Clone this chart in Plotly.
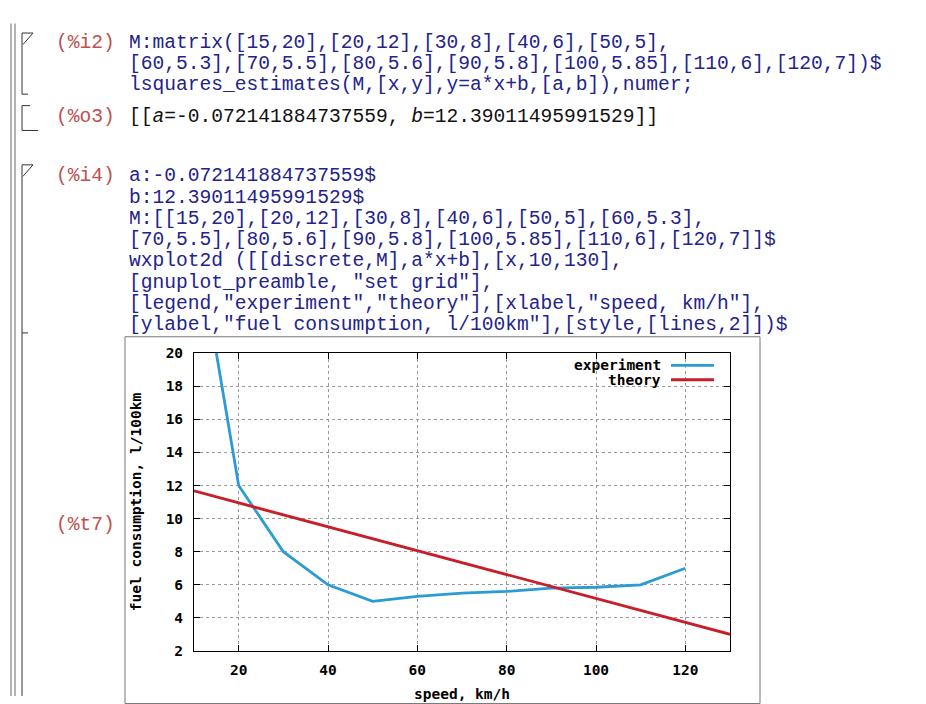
import plotly.graph_objects as go

# ---------------- data ----------------
speed = [15, 20, 30, 40, 50, 60, 70, 80, 90, 100, 110, 120]
fuel = [20, 12, 8, 6, 5, 5.3, 5.5, 5.6, 5.8, 5.85, 6, 7]
theory_speed = [10, 130]
theory_fuel = [11.67, 3.01]
x_ticks = [20, 40, 60, 80, 100, 120]
y_ticks = [2, 4, 6, 8, 10, 12, 14, 16, 18, 20]

cell1_label = "(%i2)"
cell1_lines = [
    "M:matrix([15,20],[20,12],[30,8],[40,6],[50,5],",
    "[60,5.3],[70,5.5],[80,5.6],[90,5.8],[100,5.85],[110,6],[120,7])$",
    "lsquares_estimates(M,[x,y],y=a*x+b,[a,b]),numer;",
]
out_label = "(%o3)"
out_text = "[[<i>a</i>=-0.072141884737559, <i>b</i>=12.39011495991529]]"
cell2_label = "(%i4)"
cell2_lines = [
    "a:-0.072141884737559$",
    "b:12.39011495991529$",
    "M:[[15,20],[20,12],[30,8],[40,6],[50,5],[60,5.3],",
    "[70,5.5],[80,5.6],[90,5.8],[100,5.85],[110,6],[120,7]]$",
    "wxplot2d ([[discrete,M],a*x+b],[x,10,130],",
    "[gnuplot_preamble, \"set grid\"],",
    "[legend,\"experiment\",\"theory\"],[xlabel,\"speed, km/h\"],",
    "[ylabel,\"fuel consumption, l/100km\"],[style,[lines,2]])$",
]
plot_label = "(%t7)"

# ---------------- geometry helpers ----------------
W, H = 926, 704
L, R, T, B = 186, 722, 345, 657


def px(x):
    return (x - L) / (R - L)


def py(y):
    return (B - y) / (B - T)


CODE_FONT = "Liberation Mono"
CODE_SIZE = 19.6
CODE_COLOR = "#23238c"
LABEL_COLOR = "#c0504d"
GP_FONT = "DejaVu Sans Mono"
GP_SIZE = 14.5
BLUE = "#2a9bd4"
RED = "#c81e28"

fig = go.Figure()
fig.add_trace(go.Scatter(x=speed, y=fuel, mode="lines",
                         line=dict(color=BLUE, width=2.8),
                         name="experiment", showlegend=False))
fig.add_trace(go.Scatter(x=theory_speed, y=theory_fuel, mode="lines",
                         line=dict(color=RED, width=2.8),
                         name="theory", showlegend=False))

ann = []
shapes = []

code_x = 120
label_x = 108
c1_ys = [20, 42.3, 64.6]
o_y = 98
for t, yy in zip(cell1_lines, c1_ys):
    ann.append(dict(x=px(code_x), y=py(yy), text=t))
ann.append(dict(x=px(label_x), y=py(c1_ys[0]), text=cell1_label, xanchor="right",
                font=dict(color=LABEL_COLOR)))
ann.append(dict(x=px(label_x), y=py(o_y), text=out_label, xanchor="right",
                font=dict(color=LABEL_COLOR)))
ann.append(dict(x=px(code_x), y=py(o_y), text=out_text, font=dict(color="#111111")))

c2_y0, c2_dy = 160, 22.3
for i, t in enumerate(cell2_lines):
    ann.append(dict(x=px(code_x), y=py(c2_y0 + i * c2_dy), text=t))
ann.append(dict(x=px(label_x), y=py(c2_y0), text=cell2_label, xanchor="right",
                font=dict(color=LABEL_COLOR)))
ann.append(dict(x=px(label_x), y=py(525), text=plot_label, xanchor="right",
                font=dict(color=LABEL_COLOR)))

for a in ann:
    a.setdefault("xanchor", "left")
    a["yanchor"] = "middle"
    a["xref"] = "paper"
    a["yref"] = "paper"
    a["showarrow"] = False
    a["borderpad"] = 0
    f = dict(family=CODE_FONT, size=CODE_SIZE, color=CODE_COLOR)
    f.update(a.get("font", {}))
    a["font"] = f

# legend (gnuplot style: text right, sample on the right)
leg_items = [("experiment", BLUE, 358), ("theory", RED, 373)]
shapes.append(dict(type="rect", xref="paper", yref="paper", x0=px(562), x1=px(721),
                   y0=py(346), y1=py(382), fillcolor="white", line=dict(width=0),
                   layer="between"))
for name, col, yy in leg_items:
    ann.append(dict(x=px(654), y=py(yy), text=f"<b>{name}</b>", xanchor="right", yanchor="middle",
                    xref="paper", yref="paper", showarrow=False, borderpad=0,
                    font=dict(family=GP_FONT, size=GP_SIZE, color="black")))
    shapes.append(dict(type="line", xref="paper", yref="paper", x0=px(663), x1=px(706),
                       y0=py(yy), y1=py(yy), line=dict(color=col, width=2.8)))


# worksheet decorations
def line(x0, y0, x1, y1, color="#333333", width=1):
    shapes.append(dict(type="line", xref="paper", yref="paper", x0=px(x0), x1=px(x1),
                       y0=py(y0), y1=py(y1), line=dict(color=color, width=width)))


line(3, 0, 3, H, "#9a9a9a", 1.5)
line(7, 0, 7, H, "#9a9a9a", 1.5)
# cell 1 bracket
line(14, 10, 14, 74)
line(14, 10, 25, 10)
line(25, 10, 15, 22)
line(14, 74, 20, 74)
line(14, 86, 22, 86)
line(14, 86, 14, 112)
line(14, 112, 30, 112)
# cell 2 bracket
line(14, 148, 14, H)
line(14, 148, 25, 148)
line(25, 148, 15, 160)
line(14, 324, 20, 324)

# gnuplot image frame
shapes.append(dict(type="rect", xref="paper", yref="paper", x0=px(117), x1=px(752),
                   y0=py(328), y1=py(712), line=dict(color="#777777", width=1),
                   fillcolor="rgba(0,0,0,0)", layer="below"))

gp_font = dict(family=GP_FONT, size=GP_SIZE, color="black")
axis_common = dict(showline=True, linecolor="black", linewidth=1, mirror="ticks",
                   ticks="inside", ticklen=6, tickcolor="black", showgrid=True,
                   gridcolor="#9a9a9a", griddash="dot", gridwidth=1, zeroline=False,
                   tickfont=gp_font)

fig.update_layout(
    width=W, height=H, autosize=False,
    margin=dict(l=L, r=W - R, t=T, b=H - B, pad=0),
    paper_bgcolor="white", plot_bgcolor="white",
    showlegend=False,
    annotations=ann, shapes=shapes,
    xaxis=dict(range=[10, 130], tickvals=x_ticks,
               ticktext=[f"<b>{v}</b>" for v in x_ticks],
               ticklabelstandoff=6,
               title=dict(text="<b>speed, km/h</b>", standoff=11, font=gp_font),
               **axis_common),
    yaxis=dict(range=[2, 20], tickvals=y_ticks,
               ticktext=[f"<b>{v}</b>" for v in y_ticks],
               ticklabelstandoff=7,
               title=dict(text="<b>fuel consumption, l/100km</b>", standoff=20, font=gp_font),
               **axis_common),
)

fig.write_html("out.html")
